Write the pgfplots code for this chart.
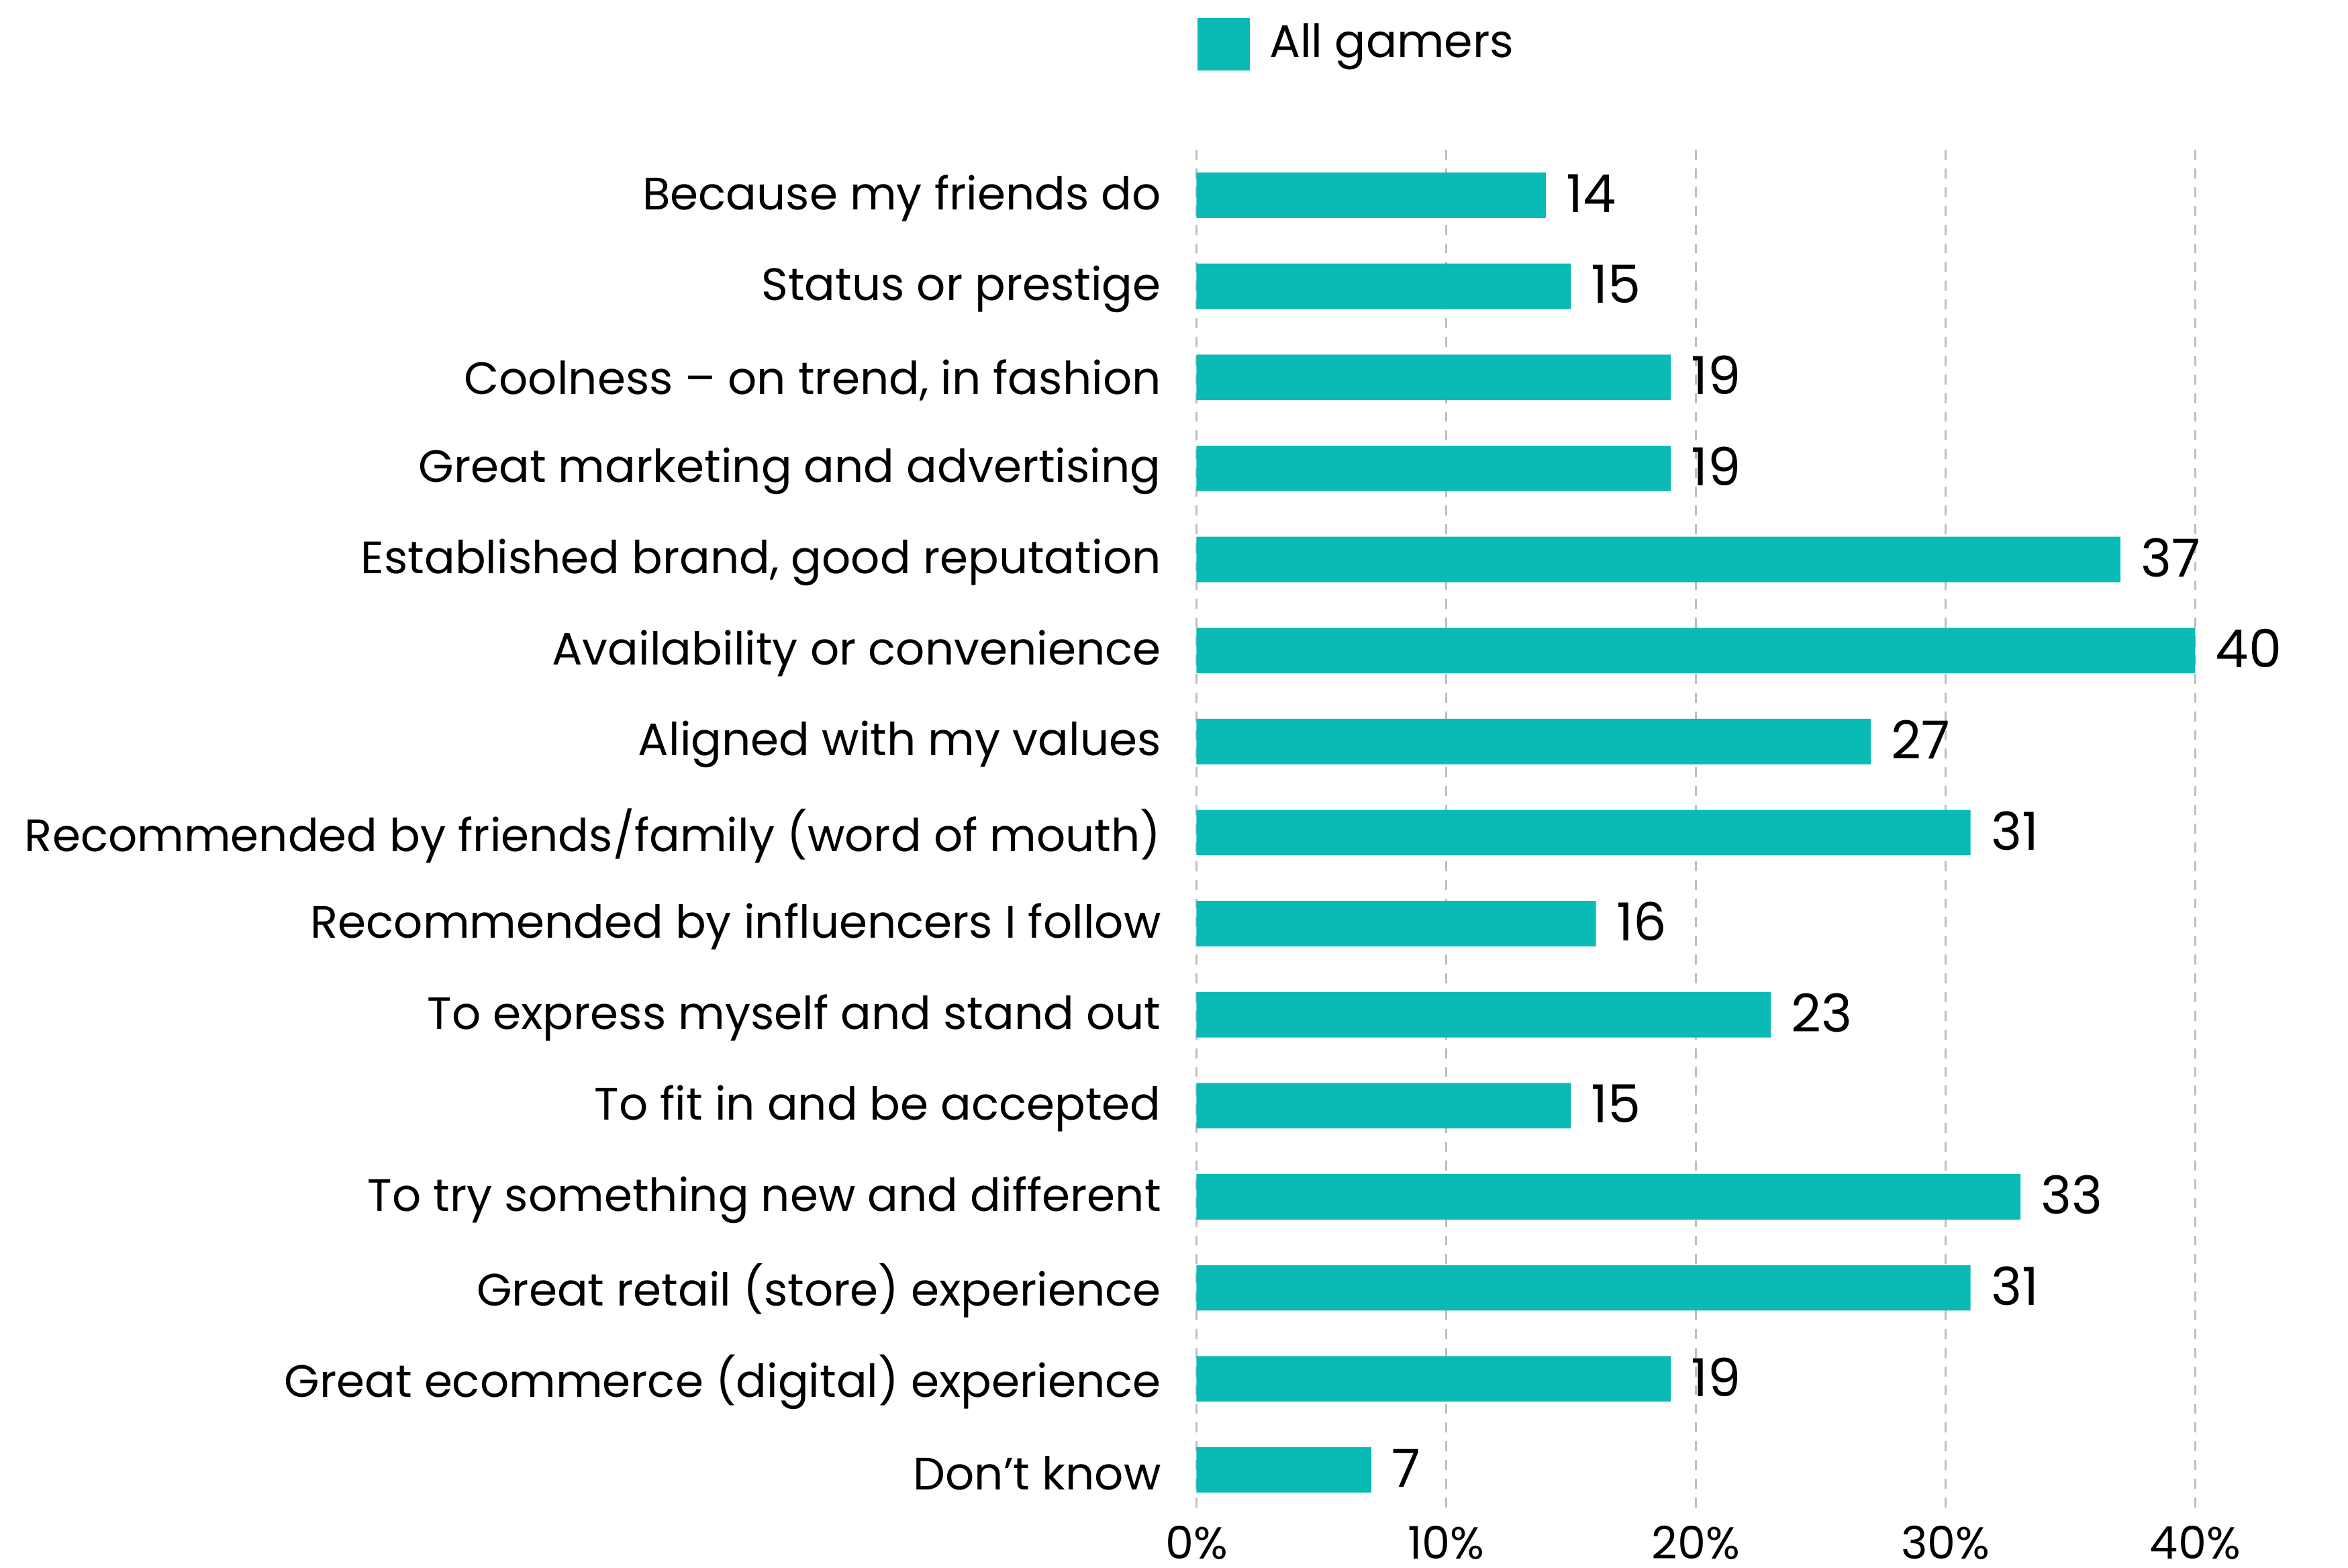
\documentclass[border=0pt]{standalone}
\usepackage{pgfplots}
\pgfplotsset{compat=1.18}
\usepackage{fontspec}
\setmainfont{Poppins}
\definecolor{barteal}{RGB}{9,186,181}
\definecolor{gridgray}{RGB}{190,190,190}
\begin{document}
\begin{tikzpicture}
\begin{axis}[
  name=ax,
  scale only axis,
  width=200.1pt, height=273.6pt,
  xbar,
  bar width=9.1pt,
  xmin=0, xmax=40,
  ymin=-0.5, ymax=14.5,
  y dir=reverse,
  enlargelimits=false,
  clip=false,
  axis line style={draw=none},
  tick style={draw=none},
  major tick length=0pt,
  xtick={0,10,20,30,40},
  xticklabels={0\%,10\%,20\%,30\%,40\%},
  ytick={0,...,14},
  yticklabels={
    Because my friends do,
    Status or prestige,
    Coolness – on trend{,} in fashion,
    Great marketing and advertising,
    Established brand{,} good reputation,
    Availability or convenience,
    Aligned with my values,
    Recommended by friends/family (word of mouth),
    Recommended by influencers I follow,
    To express myself and stand out,
    To fit in and be accepted,
    To try something new and different,
    Great retail (store) experience,
    Great ecommerce (digital) experience,
    Don’t know},
  xticklabel style={font=\fontsize{9}{10}\selectfont, inner sep=0pt, anchor=north, yshift=-1.9pt},
  yticklabel style={font=\fontsize{9.1}{11}\selectfont, inner sep=0pt, anchor=east, xshift=-6.9pt, yshift=-0.6pt},
  xmajorgrids,
  ymajorgrids=false,
  grid style={gridgray, line width=0.4pt, dash pattern=on 2pt off 1.75pt},
  /pgf/number format/assume math mode=true,
  nodes near coords,
  nodes near coords style={font=\fontsize{10.5}{12}\selectfont, anchor=west, inner sep=0pt, xshift=3.9pt, yshift=0.4pt, text=black},
  legend style={at={(0,1.0773)}, anchor=west, draw=none, fill=none, inner sep=0pt,
    font=\fontsize{9.2}{11}\selectfont, cells={anchor=west}, nodes={inner xsep=3.9pt, inner ysep=0pt}},
  legend image code/.code={\fill[barteal] (0pt,-5.25pt) rectangle (10.5pt,5.25pt);},
]
\addplot[fill=barteal, draw=none] coordinates {
  (14,0) (15,1) (19,2) (19,3) (37,4) (40,5) (27,6) (31,7)
  (16,8) (23,9) (15,10) (33,11) (31,12) (19,13) (7,14)
};
\addlegendentry{All gamers}
\end{axis}
\pgfresetboundingbox
\path[use as bounding box] ([xshift=-239.7pt,yshift=-10.5pt]ax.south west) rectangle ([xshift=30.6pt,yshift=30pt]ax.north east);
\end{tikzpicture}
\end{document}
